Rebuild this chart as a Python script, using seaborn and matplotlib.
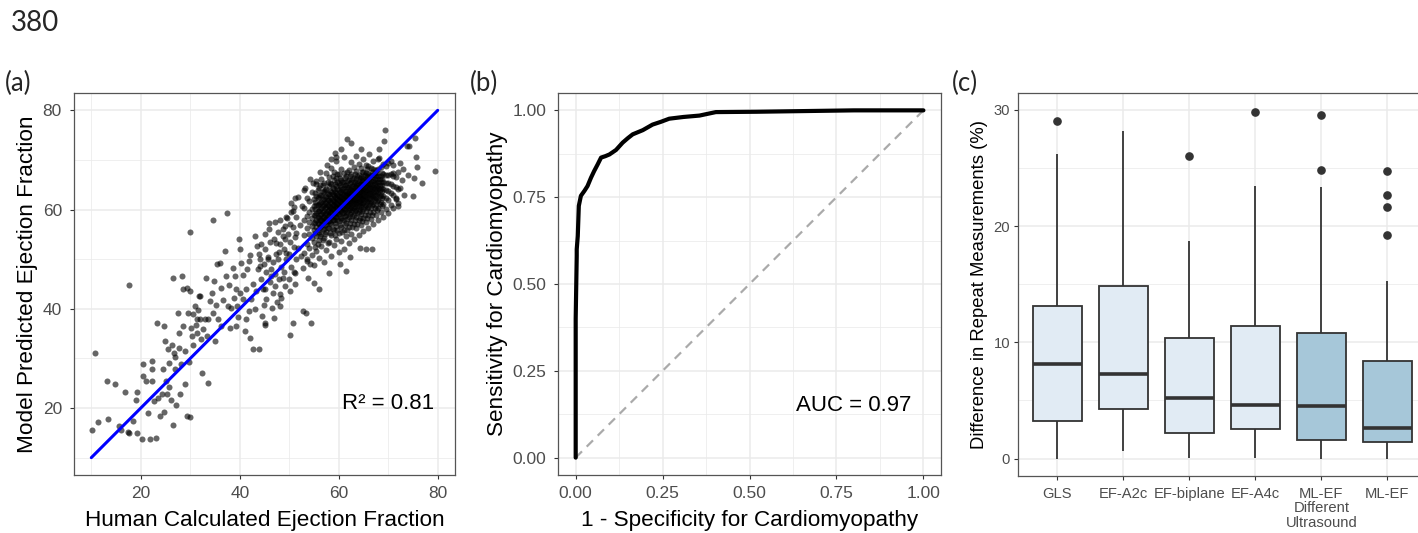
import matplotlib
matplotlib.use("Agg")
import matplotlib.pyplot as plt
from matplotlib.ticker import FixedLocator
import seaborn as sns
import pandas as pd

# ---------------- data ----------------
# Panel (a): human vs model ejection fraction
low_points = [
    (10.2, 15.6), (10.8, 31.0), (11.3, 17.2), (13.3, 17.7), (13.2, 25.4), (14.8, 24.8),
    (15.5, 16.4), (15.9, 15.6), (16.8, 23.2), (17.4, 15.2), (17.7, 14.9), (17.7, 44.7),
    (18.5, 17.4), (19.2, 23.2), (19.1, 21.6), (19.3, 15.0), (20.3, 13.7), (20.5, 28.8),
    (20.4, 26.4), (21.1, 25.4), (21.4, 18.9), (21.9, 13.8), (22.2, 29.5), (22.2, 27.8),
    (22.2, 25.4), (22.6, 21.4), (23.0, 13.9), (23.2, 37.2), (23.4, 22.1), (23.8, 18.4),
    (24.2, 22.8), (24.4, 27.8), (24.6, 36.5), (24.7, 19.2), (24.9, 33.5), (25.0, 25.4),
    (25.2, 22.8), (25.4, 31.8), (25.6, 29.1), (26.2, 21.6), (26.4, 32.8), (26.6, 16.6),
    (26.6, 46.2), (26.7, 31.1), (27.0, 27.8), (27.2, 20.7), (27.6, 39.2), (27.7, 35.2),
    (27.8, 32.1), (27.9, 22.8), (28.1, 28.8), (28.3, 46.6), (28.5, 43.9), (28.6, 36.5),
    (29.0, 24.8), (29.3, 44.2), (29.3, 18.3), (29.6, 39.2), (29.7, 29.3), (30.0, 55.4),
    (30.0, 43.6), (30.0, 18.1), (30.1, 36.2), (30.3, 34.5), (30.5, 38.9), (30.6, 32.8),
    (30.9, 40.5), (31.3, 37.9), (31.3, 35.2), (31.6, 39.8), (31.8, 42.6), (31.9, 42.5),
    (31.9, 37.9), (32.3, 27.1), (32.6, 35.9), (32.9, 37.9), (33.2, 46.2), (33.3, 34.5),
    (33.6, 25.1), (33.6, 37.9), (34.0, 41.5), (34.3, 43.2), (34.5, 39.2), (34.6, 58.0),
    (34.8, 45.6), (25.8, 24.3), (26.9, 30.2), (28.9, 31.4), (31.1, 36.8), (32.1, 33.9),
]
mid_points = [
    (35.0, 33.5), (35.2, 40.7), (35.3, 49.1), (35.6, 37.9), (36.0, 49.2), (36.2, 44.2),
    (36.3, 36.5), (37.0, 51.6), (37.3, 46.6), (37.5, 59.3), (37.7, 40.5), (38.0, 36.2),
    (38.3, 40.2), (38.7, 48.3), (39.0, 46.6), (39.2, 36.5), (39.3, 43.9), (39.5, 40.5),
    (39.9, 54.0), (40.0, 52.0), (40.1, 43.2), (40.3, 49.2), (40.7, 41.9), (41.0, 35.5),
    (41.3, 37.9), (41.5, 48.0), (41.9, 49.6), (42.0, 34.2), (42.3, 41.9), (42.7, 31.8),
    (43.0, 54.6), (43.0, 39.9), (43.4, 52.6), (43.7, 48.0), (43.9, 31.9), (44.0, 50.1),
    (44.4, 38.5), (44.7, 43.9), (45.0, 37.2), (45.2, 36.8), (45.4, 41.9), (45.7, 50.1),
    (46.0, 57.3), (46.4, 46.6), (46.7, 43.2), (47.0, 38.2), (47.4, 53.3), (47.7, 50.1),
    (48.1, 40.5), (48.4, 42.2), (48.7, 54.6), (48.7, 46.2), (49.1, 56.6), (49.4, 51.3),
    (50.1, 34.8), (50.4, 61.3), (50.7, 37.2), (51.1, 62.3), (51.1, 47.2), (51.4, 55.3),
    (51.7, 52.3), (52.4, 50.6), (52.8, 39.5), (53.1, 64.4), (53.4, 39.2), (53.8, 46.2),
    (54.4, 37.2), (54.8, 65.4), (55.1, 45.2), (56.1, 43.9), (58.0, 47.2),
    (44.2, 46.0), (44.1, 48.6), (43.8, 51.1), (44.3, 53.0), (45.1, 44.0), (45.3, 47.5),
    (44.8, 49.0), (45.2, 52.0), (45.0, 55.0), (46.1, 45.5), (46.3, 48.0), (45.8, 50.5),
    (46.2, 53.5), (45.9, 56.0), (47.1, 44.5), (47.2, 47.0), (46.8, 49.5), (47.3, 51.0),
    (46.9, 54.0), (47.2, 57.5), (48.2, 43.0), (47.9, 46.0), (48.3, 48.5), (48.0, 51.5),
    (48.2, 53.0), (47.8, 55.5), (48.1, 58.0), (49.2, 44.5), (48.9, 47.5), (49.3, 50.0),
    (49.0, 52.0), (49.2, 54.0), (48.8, 56.0), (49.3, 58.5), (50.2, 43.5), (49.9, 46.0),
    (50.3, 48.5), (50.0, 51.0), (50.2, 53.5), (49.8, 55.0), (50.1, 57.0), (50.3, 59.5),
    (51.2, 45.0), (50.9, 47.5), (51.3, 50.0), (51.0, 52.5), (51.2, 54.5), (50.8, 56.5),
    (51.3, 58.5), (51.0, 60.5), (51.8, 62.5), (53.0, 64.0), (54.2, 66.1), (55.5, 65.8),
    (56.3, 67.5), (57.6, 68.9), (58.4, 70.2), (59.3, 71.5), (52.6, 60.8), (50.8, 59.7),
    (49.5, 58.4), (52.2, 56.9), (52.7, 48.3), (53.6, 50.1), (54.1, 49.0), (42.6, 45.1),
    (41.2, 44.0), (40.6, 46.8), (42.1, 50.9), (43.2, 43.5), (38.9, 42.1), (37.9, 44.8),
    (36.7, 41.8), (39.7, 38.4), (41.8, 39.6), (46.5, 40.1), (44.9, 40.7), (47.6, 41.4),
]
high_sparse = [
    (59.5, 70.7), (60.5, 72.2), (61.5, 47.6), (61.7, 74.2), (62.5, 73.4), (64.2, 52.3),
    (64.5, 72.3), (65.5, 52.0), (66.7, 52.0), (68.2, 72.3), (69.2, 73.8), (69.4, 76.0),
    (71.5, 62.3), (71.9, 60.7), (73.2, 63.0), (73.7, 72.8), (74.3, 72.8), (75.0, 62.8),
    (75.4, 74.4), (75.7, 70.6), (75.9, 68.6), (75.2, 66.4), (76.8, 65.4), (79.5, 67.7),
    (68.2, 70.3), (70.9, 67.4), (72.3, 69.4), (70.6, 69.7), (72.3, 64.4), (73.0, 68.2),
    (72.7, 66.0), (74.1, 66.9), (62.3, 50.4), (60.2, 49.0), (63.4, 70.8), (66.1, 71.3),
]
# dense core: human EF column -> model EF values
core_columns = {
    53.0: [51.2, 54.8, 57.9, 60.3],
    53.5: [49.6, 53.1, 56.2, 58.7, 62.4],
    54.0: [52.3, 55.1, 57.4, 59.6, 61.8],
    54.5: [50.8, 54.2, 56.6, 58.3, 60.1, 63.5],
    55.0: [48.9, 53.4, 55.8, 57.2, 58.9, 60.7, 62.2],
    55.5: [51.7, 54.6, 56.4, 57.8, 59.3, 60.9, 62.8, 65.1],
    56.0: [50.2, 53.9, 55.5, 57.1, 58.4, 59.7, 61.2, 62.6, 64.3],
    56.5: [52.6, 55.0, 56.8, 58.0, 59.1, 60.4, 61.6, 63.0, 66.2],
    57.0: [49.4, 54.3, 56.1, 57.5, 58.6, 59.8, 60.9, 62.1, 63.7, 65.4],
    57.5: [51.9, 55.4, 57.0, 58.2, 59.4, 60.5, 61.5, 62.7, 64.2, 67.3],
    58.0: [53.5, 56.2, 57.7, 58.9, 59.9, 60.8, 61.9, 63.1, 64.8, 66.5],
    58.5: [50.7, 54.8, 57.1, 58.4, 59.5, 60.3, 61.3, 62.4, 63.6, 65.2, 68.4],
    59.0: [52.8, 55.9, 57.9, 59.0, 60.0, 60.9, 61.8, 62.9, 64.1, 65.9, 67.6],
    59.5: [54.1, 56.7, 58.5, 59.6, 60.6, 61.4, 62.3, 63.4, 64.7, 66.3, 69.8],
    60.0: [51.4, 55.3, 57.6, 59.1, 60.2, 61.0, 61.9, 62.8, 63.9, 65.3, 67.1],
    60.5: [53.7, 56.5, 58.3, 59.7, 60.7, 61.6, 62.5, 63.5, 64.6, 66.0, 68.2],
    61.0: [52.1, 55.8, 57.9, 59.3, 60.4, 61.3, 62.2, 63.2, 64.3, 65.6, 67.4, 70.6],
    61.5: [54.6, 57.3, 59.0, 60.2, 61.1, 62.0, 62.9, 63.8, 65.0, 66.7],
    62.0: [53.2, 56.4, 58.6, 59.9, 60.9, 61.8, 62.7, 63.6, 64.6, 65.9, 68.0],
    62.5: [55.1, 57.8, 59.5, 60.6, 61.5, 62.4, 63.3, 64.3, 65.5, 67.2, 69.5],
    63.0: [54.0, 57.0, 59.0, 60.3, 61.3, 62.2, 63.1, 64.0, 65.1, 66.4, 68.6],
    63.5: [56.2, 58.6, 60.0, 61.1, 62.0, 63.0, 63.9, 64.9, 66.1, 67.8],
    64.0: [54.9, 57.9, 59.6, 60.8, 61.8, 62.7, 63.6, 64.6, 65.7, 67.0, 69.1],
    64.5: [56.8, 59.1, 60.5, 61.6, 62.6, 63.5, 64.4, 65.4, 66.6, 68.3],
    65.0: [55.6, 58.4, 60.1, 61.3, 62.3, 63.3, 64.2, 65.2, 66.3, 67.6, 70.2],
    65.5: [57.5, 59.8, 61.0, 62.1, 63.1, 64.0, 65.0, 66.1, 67.4, 69.0],
    66.0: [56.3, 58.9, 60.6, 61.8, 62.9, 63.9, 64.9, 66.0, 67.2, 68.7],
    66.5: [58.2, 60.3, 61.6, 62.7, 63.7, 64.7, 65.8, 67.0, 68.4],
    67.0: [57.0, 59.6, 61.2, 62.5, 63.6, 64.6, 65.7, 66.9, 68.1, 69.7],
    67.5: [58.9, 61.0, 62.3, 63.5, 64.5, 65.6, 66.8, 68.0],
    68.0: [57.8, 60.4, 62.0, 63.3, 64.4, 65.5, 66.7, 68.2, 70.1],
    68.5: [59.5, 61.6, 63.0, 64.3, 65.5, 66.8, 68.5],
    69.0: [58.6, 61.1, 62.8, 64.2, 65.6, 67.1, 69.2],
    69.5: [60.2, 62.4, 64.0, 65.4, 66.9, 68.7],
    70.0: [59.3, 61.9, 63.7, 65.3, 67.0, 69.3],
    70.5: [61.0, 63.4, 65.2, 67.2],
    71.0: [60.3, 62.9, 64.8, 66.8, 69.0],
    71.5: [62.2, 64.5, 66.6],
    72.0: [61.4, 64.1, 67.5],
}
core_columns_b = {
    55.25: [52.5, 55.3, 57.5, 59.0, 60.2, 61.5, 63.3],
    55.75: [53.0, 55.9, 57.3, 58.6, 59.8, 61.0, 62.3, 63.9],
    56.25: [54.6, 56.5, 57.8, 59.0, 60.1, 61.4, 62.9, 65.0],
    56.75: [53.9, 56.0, 57.4, 58.6, 59.6, 60.8, 62.0, 63.5, 64.9],
    57.25: [55.0, 56.9, 58.1, 59.2, 60.3, 61.3, 62.5, 63.9],
    57.75: [53.2, 56.3, 57.6, 58.8, 59.8, 60.9, 62.0, 63.2, 65.6],
    58.25: [55.2, 57.3, 58.5, 59.5, 60.5, 61.5, 62.6, 63.8, 65.4],
    58.75: [56.1, 58.0, 59.2, 60.1, 61.0, 62.0, 63.1, 64.4, 66.8],
    59.25: [54.8, 57.2, 58.6, 59.6, 60.5, 61.5, 62.5, 63.6, 65.1],
    59.75: [55.9, 58.0, 59.3, 60.3, 61.2, 62.1, 63.0, 64.2, 65.6, 67.2],
    60.25: [56.8, 58.7, 59.9, 60.8, 61.7, 62.6, 63.6, 64.9, 66.3],
    60.75: [55.4, 57.9, 59.4, 60.4, 61.3, 62.2, 63.1, 64.2, 65.5],
    61.25: [56.9, 58.8, 60.0, 61.0, 61.9, 62.8, 63.8, 65.0, 66.4],
    61.75: [55.9, 58.2, 59.6, 60.7, 61.6, 62.5, 63.4, 64.5, 65.8, 67.6],
    62.25: [57.3, 59.2, 60.4, 61.3, 62.2, 63.1, 64.1, 65.3, 66.8],
    62.75: [56.4, 58.7, 60.0, 61.0, 61.9, 62.8, 63.8, 64.8, 66.1],
    63.25: [57.8, 59.7, 60.8, 61.8, 62.7, 63.6, 64.5, 65.6, 67.2],
    63.75: [57.1, 59.3, 60.5, 61.5, 62.4, 63.4, 64.3, 65.4, 66.8],
    64.25: [58.3, 60.2, 61.3, 62.3, 63.1, 64.1, 65.1, 66.3],
    64.75: [57.6, 59.8, 61.1, 62.1, 63.0, 64.0, 64.9, 66.0, 67.5],
    65.25: [59.0, 60.8, 61.9, 62.8, 63.8, 64.7, 65.7, 67.0],
    65.75: [58.4, 60.4, 61.6, 62.6, 63.5, 64.5, 65.5, 66.7, 68.1],
    66.25: [59.6, 61.3, 62.4, 63.4, 64.3, 65.4, 66.6],
    66.75: [59.0, 61.0, 62.2, 63.2, 64.2, 65.2, 66.3, 67.6],
    67.25: [60.3, 61.9, 63.0, 64.1, 65.1, 66.2, 67.4],
    67.75: [59.9, 61.7, 62.9, 64.0, 65.0, 66.1, 67.3],
    68.25: [61.2, 62.7, 63.9, 65.0, 66.1],
    68.75: [60.7, 62.4, 63.7, 64.9, 66.2, 67.4],
}
identity_x = [10, 80]
identity_y = [10, 80]
r2_text = "R\u00b2 = 0.81"

# Panel (b): ROC curve
fpr = [0.0, 0.0, 0.003, 0.003, 0.006, 0.009, 0.015, 0.025, 0.034, 0.044, 0.053, 0.063,
       0.073, 0.085, 0.097, 0.116, 0.135, 0.150, 0.164, 0.193, 0.221, 0.245, 0.269,
       0.310, 0.356, 0.403, 0.520, 0.660, 0.800, 1.0]
tpr = [0.0, 0.40, 0.581, 0.600, 0.638, 0.725, 0.754, 0.768, 0.782, 0.806, 0.825, 0.844,
       0.864, 0.868, 0.873, 0.886, 0.907, 0.920, 0.931, 0.943, 0.959, 0.967, 0.976,
       0.981, 0.985, 0.995, 0.996, 0.998, 1.0, 1.0]
chance = [0.0, 1.0]
auc_text = "AUC = 0.97"

# Panel (c): differences in repeat measurements (%)
methods = ["GLS", "EF-A2c", "EF-biplane", "EF-A4c", "ML-EF\nDifferent\nUltrasound", "ML-EF"]
diff_gls = [0, 1.6, 3.21, 5.5, 8.13, 10.5, 13.11, 26.22, 29.06]
diff_a2c = [0.66, 4.29, 7.30, 14.89, 28.2]
diff_biplane = [0.09, 1.2, 2.18, 3.5, 5.18, 8.0, 10.39, 18.75, 26.05]
diff_a4c = [0.09, 1.3, 2.52, 3.5, 4.61, 8.0, 11.45, 23.48, 29.86]
diff_ml_du = [0, 0.5, 1.0, 1.60, 2.5, 3.5, 4.52, 6.0, 8.5, 10.82, 23.36, 24.85, 29.6]
diff_ml = [0, 0.3, 0.6, 0.9, 1.2, 1.46, 1.7, 1.9, 2.1, 2.4, 2.63, 3.5, 4.5, 5.5, 7.0,
           8.39, 15.26, 19.21, 21.64, 22.65, 24.76]
box_colors = ["#DEEBF7", "#DEEBF7", "#DEEBF7", "#DEEBF7", "#9ECAE1", "#9ECAE1"]

# ---------------- build tables ----------------
pts = low_points + mid_points + high_sparse
for cols in (core_columns, core_columns_b):
    for cx, ys in cols.items():
        pts += [(cx, y) for y in ys]
df_a = pd.DataFrame(pts, columns=["human", "model"])
df_line = pd.DataFrame({"x": identity_x, "y": identity_y})
df_roc = pd.DataFrame({"fpr": fpr, "tpr": tpr})
df_chance = pd.DataFrame({"x": chance, "y": chance})
groups = [diff_gls, diff_a2c, diff_biplane, diff_a4c, diff_ml_du, diff_ml]
df_c = pd.DataFrame(
    [(m, v) for m, g in zip(methods, groups) for v in g], columns=["method", "diff"]
)

# ---------------- style ----------------
sns.set_theme(style="white")
plt.rcParams["font.family"] = ["Liberation Sans", "DejaVu Sans"]

W, H = 1418, 533
fig = plt.figure(figsize=(W / 100, H / 100), dpi=100)


def px_axes(l, t, r, b):
    return fig.add_axes([l / W, 1 - b / H, (r - l) / W, (b - t) / H])


TICK_COL = "#4D4D4D"
GRID_COL = "#EBEBEB"


def style(ax, labelsize, xpad, ypad):
    ax.set_axisbelow(True)
    ax.grid(which="major", color=GRID_COL, lw=1.1)
    ax.grid(which="minor", color=GRID_COL, lw=0.55)
    for s in ax.spines.values():
        s.set_color("#555555")
        s.set_linewidth(0.9)
    ax.tick_params(which="major", length=3, width=0.8, color="#333333",
                   labelsize=labelsize, labelcolor=TICK_COL, bottom=True, left=True)
    ax.tick_params(axis="x", which="major", pad=xpad)
    ax.tick_params(axis="y", which="major", pad=ypad)
    ax.tick_params(which="minor", length=0)


# Panel (a)
ax1 = px_axes(74, 93, 455, 475)
sns.scatterplot(data=df_a, x="human", y="model", ax=ax1, color="black", alpha=0.6,
                s=19, linewidth=0)
sns.lineplot(data=df_line, x="x", y="y", ax=ax1, color="#0000FF", lw=2.2)
ax1.set_xlim(6.5, 83.5)
ax1.set_ylim(6.5, 83.5)
ax1.xaxis.set_major_locator(FixedLocator([20, 40, 60, 80]))
ax1.yaxis.set_major_locator(FixedLocator([20, 40, 60, 80]))
ax1.xaxis.set_minor_locator(FixedLocator([10, 30, 50, 70]))
ax1.yaxis.set_minor_locator(FixedLocator([10, 30, 50, 70]))
style(ax1, 12.5, 5.2, 5.7)
ax1.set_xlabel("Human Calculated Ejection Fraction", fontsize=16.2, color="black", labelpad=6.5)
ax1.set_ylabel("Model Predicted Ejection Fraction", fontsize=16.2, color="black", labelpad=3)
ax1.text(70, 21, r2_text, ha="center", va="center", fontsize=16, color="black")

# Panel (b)
ax2 = px_axes(558.3, 93, 940.8, 475)
sns.lineplot(data=df_chance, x="x", y="y", ax=ax2, color="#AAAAAA", lw=1.6,
             linestyle=(0, (4, 3)))
sns.lineplot(data=df_roc, x="fpr", y="tpr", ax=ax2, color="black", lw=3.0,
             sort=False, estimator=None)
ax2.set_xlim(-0.05, 1.05)
ax2.set_ylim(-0.05, 1.05)
ticks_b = [0, 0.25, 0.5, 0.75, 1.0]
ax2.xaxis.set_major_locator(FixedLocator(ticks_b))
ax2.yaxis.set_major_locator(FixedLocator(ticks_b))
ax2.set_xticklabels(["0.00", "0.25", "0.50", "0.75", "1.00"])
ax2.set_yticklabels(["0.00", "0.25", "0.50", "0.75", "1.00"])
ax2.xaxis.set_minor_locator(FixedLocator([0.125, 0.375, 0.625, 0.875]))
ax2.yaxis.set_minor_locator(FixedLocator([0.125, 0.375, 0.625, 0.875]))
style(ax2, 12.5, 5.2, 5.7)
ax2.set_xlabel("1 - Specificity for Cardiomyopathy", fontsize=16.2, color="black", labelpad=6.5)
ax2.set_ylabel("Sensitivity for Cardiomyopathy", fontsize=16.2, color="black", labelpad=3)
ax2.text(0.80, 0.15, auc_text, ha="center", va="center", fontsize=16, color="black")

# Panel (c)
ax3 = px_axes(1017.7, 93.3, 1427, 476)
sns.boxplot(data=df_c, x="method", y="diff", hue="method", order=methods,
            hue_order=methods, palette=box_colors, ax=ax3, width=0.75,
            linecolor="#333333", linewidth=1.3, showcaps=False, legend=False,
            flierprops=dict(marker="o", markersize=5.2, markerfacecolor="#333333",
                            markeredgecolor="#333333"),
            medianprops=dict(linewidth=2.6, color="#333333"))
ax3.set_xlim(-0.6, 5.6)
ax3.set_ylim(-1.5, 31.43)
ax3.yaxis.set_major_locator(FixedLocator([0, 10, 20, 30]))
ax3.yaxis.set_minor_locator(FixedLocator([5, 15, 25]))
style(ax3, 10.6, 4.7, 2.5)
ax3.grid(which="major", axis="x", color=GRID_COL, lw=1.1)
ax3.set_xlabel("")
ax3.set_ylabel("Difference in Repeat Measurements (%)", fontsize=13.3, color="black",
               labelpad=4)
for lab in ax3.get_xticklabels():
    lab.set_linespacing(1.05)

# Figure labels
LBL_FONT = ["Lato", "DejaVu Sans"]
fig.text(11 / W, 1 - 23 / H, "380", fontsize=20, family=LBL_FONT, ha="left", va="center")
fig.text(5 / W, 1 - 83 / H, "(a)", fontsize=18.5, family=LBL_FONT, ha="left", va="center")
fig.text(470 / W, 1 - 83 / H, "(b)", fontsize=18.5, family=LBL_FONT, ha="left", va="center")
fig.text(952 / W, 1 - 83 / H, "(c)", fontsize=18.5, family=LBL_FONT, ha="left", va="center")

fig.savefig("out.png", dpi=100)
